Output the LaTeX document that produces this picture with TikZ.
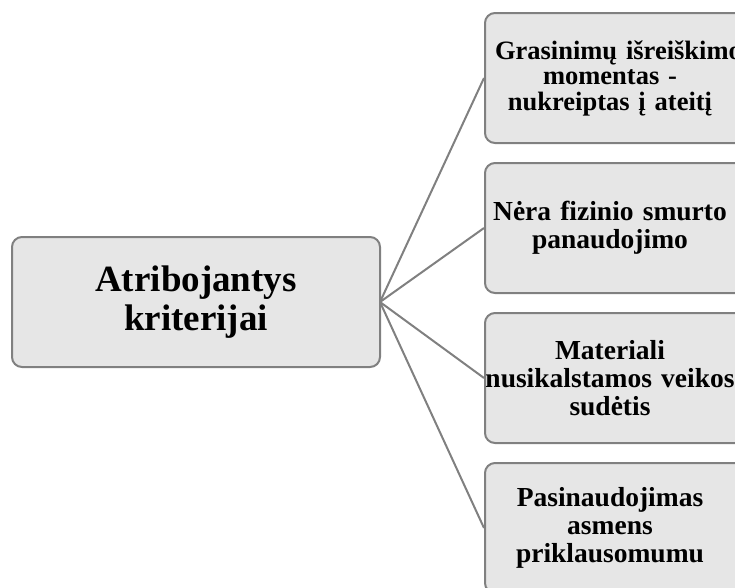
\documentclass[tikz,border=0pt]{standalone}
\usepackage{fontspec}
\setmainfont{Liberation Serif}
\definecolor{boxfill}{HTML}{E6E6E6}
\definecolor{linegray}{HTML}{808080}
\begin{document}
\begin{tikzpicture}[x=1pt,y=-1pt,
  card/.style={draw=linegray, fill=boxfill, line width=2pt, rounded corners=10pt, inner sep=0pt},
  bigtext/.style={align=center, font=\bfseries\fontsize{37}{38.5}\selectfont},
  smalltext/.style={align=center, text width=252pt, inner sep=0pt, font=\bfseries\fontsize{27.5}{28}\selectfont},
  conn/.style={draw=linegray, line width=2pt}]
\useasboundingbox (0,0) rectangle (735,587);
\clip (0,0) rectangle (735,587);
% connectors first (under the boxes)
\coordinate (hub) at (380,302);
\coordinate (e1) at (484,78);
\coordinate (e2) at (484,228);
\coordinate (e3) at (484,378);
\coordinate (e4) at (484,528);
\draw[conn] (hub) -- (e1);
\draw[conn] (hub) -- (e2);
\draw[conn] (hub) -- (e3);
\draw[conn] (hub) -- (e4);
% root box
\node[card, bigtext, minimum width=368pt, minimum height=130pt] (root) at (196,302) {Atribojantys\\kriterijai};
% right boxes
\node[card, anchor=west, minimum width=266pt, minimum height=130pt] (b1) at (e1) {};
\node[card, anchor=west, minimum width=266pt, minimum height=130pt] (b2) at (e2) {};
\node[card, anchor=west, minimum width=266pt, minimum height=130pt] (b3) at (e3) {};
\node[card, anchor=west, minimum width=266pt, minimum height=130pt] (b4) at (e4) {};
\node[smalltext, text width=230pt, font=\bfseries\fontsize{26.5}{25.5}\selectfont] (t1) at (610,78) {\mbox{Grasinimų išreiškimo}\\momentas -\\nukreiptas į ateitį};
\node[smalltext] (t2) at (610,228) {Nėra fizinio smurto\\panaudojimo};
\node[smalltext] (t3) at (610,378) {Materiali\\\mbox{nusikalstamos veikos}\\sudėtis};
\node[smalltext] (t4) at (610,528) {Pasinaudojimas\\asmens\\priklausomumu};
\end{tikzpicture}
\end{document}
